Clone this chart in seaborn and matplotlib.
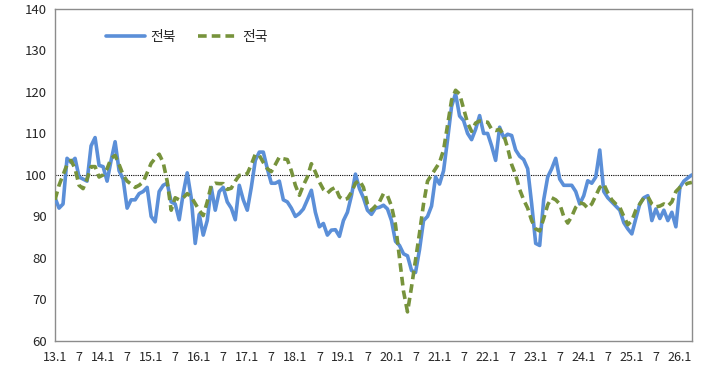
import numpy as np
import pandas as pd
import matplotlib
matplotlib.use("Agg")
import matplotlib.pyplot as plt
import seaborn as sns

# monthly index, 2013.1 .. 2026.4
months = list(range(160))
tick_pos = list(range(0, 157, 6))
tick_labels = []
for yy in range(13, 27):
    tick_labels.append(f"{yy}.1")
    if yy < 26:
        tick_labels.append("7")

# 전북
jeonbuk = [94.5, 92, 93, 104, 103, 104, 99.5, 99, 98.5, 107,
           109, 102.3, 102, 98.5, 103.5, 108, 101, 99, 92, 94,
           94, 95.5, 96, 97, 90, 88.7, 96, 97.5, 98, 93.5,
           93, 89.2, 95.5, 100.5, 94.5, 83.5, 90.5, 85.5, 89, 97,
           91.5, 96, 97, 93.5, 92, 89.2, 97.5, 94, 91.5, 97,
           103.5, 105.5, 105.5, 101.5, 98, 98, 98.5, 94, 93.5, 92,
           90, 90.7, 91.8, 94, 96.3, 91, 87.5, 88.3, 85.5, 86.7,
           86.8, 85.2, 89, 91, 95, 100.2, 96.7, 94.5, 91.5, 90.5,
           92, 92.2, 92.7, 91.8, 89, 84, 83, 81, 80.5, 77,
           76.5, 82, 89, 90, 92.5, 99.5, 97.8, 101, 108.5, 116.5,
           119.6, 114.2, 113.1, 110, 108.5, 111, 114.3, 110, 110, 107,
           103.5, 111.5, 109, 109.8, 109.5, 106, 104.5, 103.7, 101.5, 93,
           83.5, 83, 94, 99.5, 101.5, 104, 99, 97.5, 97.5, 97.5,
           96, 93, 95, 98.6, 98, 99.5, 106, 96, 94.5, 93.5,
           92.5, 91.5, 88.5, 87, 85.8, 89.5, 93, 94.5, 95, 89,
           91.8, 89.5, 91.5, 89, 91, 87.5, 97, 98.5, 99.3, 100]

# 전국
national = [94, 97.5, 100, 102.5, 103.5, 101.5, 97.5, 96.7, 99, 102,
            102, 99.5, 100, 101.5, 104, 104.7, 102.5, 100, 98.5, 97.8,
            97, 97.5, 98.3, 100.5, 102.8, 104, 105, 103, 98.5, 91.5,
            94.5, 94, 94.5, 95.5, 94.7, 93.1, 91.5, 90.2, 93.5, 97.5,
            98, 97.9, 97.9, 96.5, 96.8, 98.5, 99.9, 99.9, 100.3, 102.5,
            105, 104.7, 103, 101.5, 100.8, 102.5, 104.3, 103.9, 103.7, 101,
            97.5, 95.1, 97.5, 99.5, 102.7, 100.7, 98.3, 96.5, 95.6, 96.5,
            97, 94.7, 94, 94.3, 95.8, 98, 98.7, 97, 93, 91.5,
            92.5, 93.5, 95.5, 95, 92.5, 88, 80, 72, 67, 73,
            79.5, 86, 93, 98.5, 100, 101.5, 103, 106, 112, 118,
            120.4, 119.5, 116, 112.5, 110.5, 112.5, 113, 112.8, 112.7, 111,
            110.7, 111, 109.7, 106.5, 102.5, 100, 96.5, 94, 92, 89,
            87, 86.5, 89.5, 92.8, 94.5, 94, 93, 90, 88.4, 90,
            92.2, 93.3, 93, 92, 93, 95, 97, 97.8, 95.7, 94,
            93, 92.2, 90, 88, 89, 91.5, 93, 94.5, 94.8, 93,
            92.3, 92.5, 93, 92.5, 93.5, 96, 97, 97.5, 98, 98.2]

df = pd.DataFrame({"month": months, "전북": jeonbuk, "전국": national})

sns.set_style("white")
plt.rcParams['font.family'] = ['Noto Sans CJK KR', 'DejaVu Sans']

fig = plt.figure(figsize=(7.1, 3.71), dpi=100)
ax = fig.add_axes([0.0775, 0.081, 0.897, 0.895])

ax.axhline(100, color="black", lw=0.8, ls=(0, (1, 1)), zorder=1)
sns.lineplot(data=df, x="month", y="전북", ax=ax, color="#5b8fd8", lw=2.6,
             label="전북", zorder=3)
sns.lineplot(data=df, x="month", y="전국", ax=ax, color="#77933c", lw=2.6,
             label="전국", zorder=4, dashes=False)
ax.lines[-1].set_dashes((2.4, 1.4))

ax.set_xlim(0, 159)
ax.set_ylim(60, 140)
ax.set_yticks(range(60, 141, 10))
ax.set_xticks(tick_pos)
ax.set_xticklabels(tick_labels)
ax.set_xlabel("")
ax.set_ylabel("")
ax.tick_params(axis="x", length=4, direction="out", color="#898989",
               labelsize=9, pad=3)
ax.tick_params(axis="y", length=0, labelsize=9.5, pad=6)
for s in ax.spines.values():
    s.set_color("#8c8c8c")
    s.set_linewidth(1.0)

leg = ax.legend(loc="center left", bbox_to_anchor=(0.06, 0.915), ncol=2,
                frameon=False, fontsize=10, handlelength=2.8,
                handletextpad=0.4, columnspacing=1.6)
leg.get_lines()[1].set_dashes((2.4, 1.4))

fig.savefig("out.png", dpi=100)
